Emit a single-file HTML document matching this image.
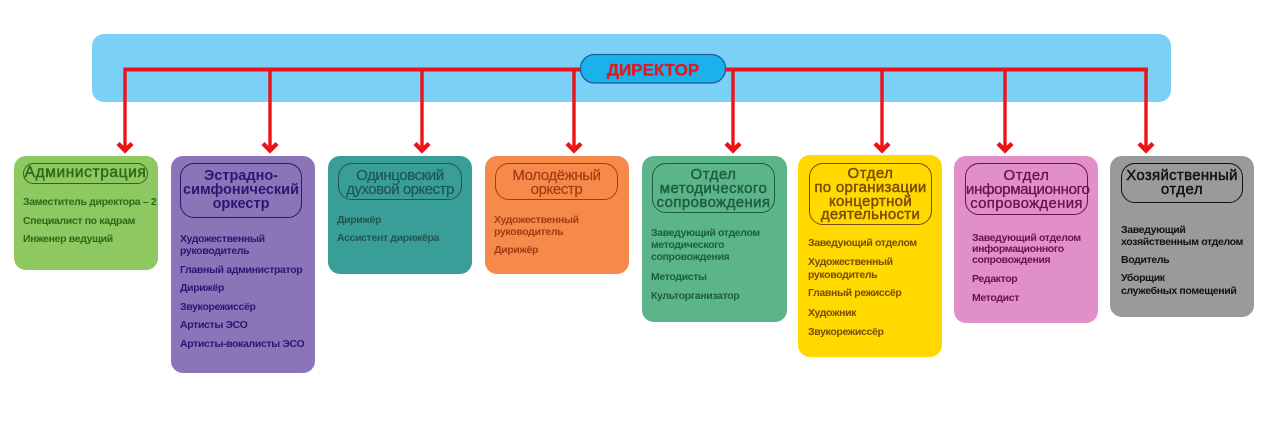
<!DOCTYPE html>
<html>
<head>
<meta charset="utf-8">
<style>
html,body{margin:0;padding:0;background:#fff;}
body{width:1280px;height:445px;position:relative;overflow:hidden;font-family:"Liberation Sans","DejaVu Sans",sans-serif;}
svg{position:absolute;left:0;top:0;}
.box{position:absolute;border-radius:12px;}
.pill{position:absolute;border:1.5px solid;border-radius:14px;box-sizing:border-box;}
.t{position:absolute;left:0;right:0;text-align:center;font-size:15px;line-height:14px;height:14px;white-space:nowrap;}
.i{position:absolute;font-size:10.5px;font-weight:bold;line-height:12px;height:12px;white-space:nowrap;letter-spacing:-0.35px;}
</style>
</head>
<body>
<svg width="1280" height="445" viewBox="0 0 1280 445">
  <rect x="92" y="34" width="1079" height="68" rx="12" ry="12" fill="#7BD0F5"/>
  <g stroke="#EC1318" fill="none" stroke-linecap="butt">
    <line x1="123.5" y1="69.5" x2="1148" y2="69.5" stroke-width="4"/>
    <line x1="125" y1="68" x2="125" y2="150" stroke-width="3.4"/>
    <line x1="270" y1="68" x2="270" y2="150" stroke-width="3.4"/>
    <line x1="422" y1="68" x2="422" y2="150" stroke-width="3.4"/>
    <line x1="574" y1="68" x2="574" y2="150" stroke-width="3.4"/>
    <line x1="733" y1="68" x2="733" y2="150" stroke-width="3.4"/>
    <line x1="882" y1="68" x2="882" y2="150" stroke-width="3.4"/>
    <line x1="1005" y1="68" x2="1005" y2="150" stroke-width="3.4"/>
    <line x1="1146" y1="68" x2="1146" y2="150" stroke-width="3.4"/>
  </g>
  <g stroke="#EC1318" fill="none" stroke-width="4.4" stroke-linejoin="miter">
    <path d="M118 143.5 L125 150.5 L132 143.5"/>
    <path d="M263 143.5 L270 150.5 L277 143.5"/>
    <path d="M415 143.5 L422 150.5 L429 143.5"/>
    <path d="M567 143.5 L574 150.5 L581 143.5"/>
    <path d="M726 143.5 L733 150.5 L740 143.5"/>
    <path d="M875 143.5 L882 150.5 L889 143.5"/>
    <path d="M998 143.5 L1005 150.5 L1012 143.5"/>
    <path d="M1139 143.5 L1146 150.5 L1153 143.5"/>
  </g>
  <rect x="580.5" y="54.5" width="145" height="28.5" rx="14" ry="14" fill="#1BB1EA" stroke="#1F5A9B" stroke-width="1.3"/>
  <text x="653" y="75.5" text-anchor="middle" font-family="Liberation Sans, sans-serif" font-weight="bold" font-size="17" fill="#E3171F" stroke="#E3171F" stroke-width="0.3">ДИРЕКТОР</text>
</svg>

<!-- 1 Администрация -->
<div class="box" style="left:14px;top:156px;width:144px;height:114px;background:#8DC860;">
  <div class="pill" style="left:9px;top:7px;width:125px;height:21px;border-color:#2D6A1A;border-radius:11px;">
    <div class="t" style="top:2px;color:#2D6A1A;font-size:15.5px;letter-spacing:0.6px;-webkit-text-stroke:0.45px #2D6A1A;">Администрация</div>
  </div>
  <div class="i" style="left:9px;top:40px;color:#2D6A1A;">Заместитель директора – 2</div>
  <div class="i" style="left:9px;top:59px;color:#2D6A1A;">Специалист по кадрам</div>
  <div class="i" style="left:9px;top:77px;color:#2D6A1A;">Инженер ведущий</div>
</div>

<!-- 2 Эстрадно-симфонический -->
<div class="box" style="left:171px;top:156px;width:144px;height:217px;background:#8B74B8;">
  <div class="pill" style="left:9px;top:7px;width:122px;height:55px;border-color:#2B1672;">
    <div class="t" style="top:5px;color:#2B1672;font-weight:bold;font-size:14.5px;">Эстрадно-</div>
    <div class="t" style="top:19px;color:#2B1672;font-weight:bold;font-size:14.5px;">симфонический</div>
    <div class="t" style="top:33px;color:#2B1672;font-weight:bold;font-size:14.5px;">оркестр</div>
  </div>
  <div class="i" style="left:9px;top:77px;color:#2B1672;">Художественный</div>
  <div class="i" style="left:9px;top:89px;color:#2B1672;">руководитель</div>
  <div class="i" style="left:9px;top:108px;color:#2B1672;">Главный администратор</div>
  <div class="i" style="left:9px;top:126px;color:#2B1672;">Дирижёр</div>
  <div class="i" style="left:9px;top:145px;color:#2B1672;">Звукорежиссёр</div>
  <div class="i" style="left:9px;top:163px;color:#2B1672;">Артисты ЭСО</div>
  <div class="i" style="left:9px;top:182px;color:#2B1672;">Артисты-вокалисты ЭСО</div>
</div>

<!-- 3 Одинцовский -->
<div class="box" style="left:328px;top:156px;width:144px;height:118px;background:#3A9E98;">
  <div class="pill" style="left:10px;top:7px;width:124px;height:37px;border-color:#1E5652;">
    <div class="t" style="top:5px;color:#1E5652;letter-spacing:-0.4px;-webkit-text-stroke:0.2px #1E5652;">Одинцовский</div>
    <div class="t" style="top:19px;color:#1E5652;letter-spacing:-0.5px;-webkit-text-stroke:0.2px #1E5652;">духовой оркестр</div>
  </div>
  <div class="i" style="left:9px;top:58px;color:#1E5652;">Дирижёр</div>
  <div class="i" style="left:9px;top:76px;color:#1E5652;">Ассистент дирижёра</div>
</div>

<!-- 4 Молодёжный -->
<div class="box" style="left:485px;top:156px;width:144px;height:118px;background:#F68A4B;">
  <div class="pill" style="left:10px;top:7px;width:123px;height:37px;border-color:#A53B12;">
    <div class="t" style="top:5px;color:#A53B12;letter-spacing:-0.4px;-webkit-text-stroke:0.2px #A53B12;">Молодёжный</div>
    <div class="t" style="top:19px;color:#A53B12;letter-spacing:-0.4px;-webkit-text-stroke:0.2px #A53B12;">оркестр</div>
  </div>
  <div class="i" style="left:9px;top:58px;color:#A53B12;">Художественный</div>
  <div class="i" style="left:9px;top:70px;color:#A53B12;">руководитель</div>
  <div class="i" style="left:9px;top:88px;color:#A53B12;">Дирижёр</div>
</div>

<!-- 5 Отдел методического сопровождения -->
<div class="box" style="left:642px;top:156px;width:145px;height:166px;background:#5BB588;">
  <div class="pill" style="left:10px;top:7px;width:123px;height:50px;border-color:#1D5E40;">
    <div class="t" style="top:4px;color:#1D5E40;letter-spacing:0.5px;-webkit-text-stroke:0.45px #1D5E40;">Отдел</div>
    <div class="t" style="top:18px;color:#1D5E40;letter-spacing:0.4px;-webkit-text-stroke:0.45px #1D5E40;">методического</div>
    <div class="t" style="top:32px;color:#1D5E40;letter-spacing:0.4px;-webkit-text-stroke:0.45px #1D5E40;">сопровождения</div>
  </div>
  <div class="i" style="left:9px;top:71px;color:#1D5E40;">Заведующий отделом</div>
  <div class="i" style="left:9px;top:83px;color:#1D5E40;">методического</div>
  <div class="i" style="left:9px;top:95px;color:#1D5E40;">сопровождения</div>
  <div class="i" style="left:9px;top:115px;color:#1D5E40;">Методисты</div>
  <div class="i" style="left:9px;top:134px;color:#1D5E40;">Культорганизатор</div>
</div>

<!-- 6 Отдел по организации концертной деятельности -->
<div class="box" style="left:798px;top:155px;width:144px;height:202px;background:#FFD900;">
  <div class="pill" style="left:11px;top:8px;width:123px;height:62px;border-color:#7A4B05;">
    <div class="t" style="top:3px;color:#7A4B05;letter-spacing:0.5px;-webkit-text-stroke:0.45px #7A4B05;">Отдел</div>
    <div class="t" style="top:17px;color:#7A4B05;letter-spacing:0.3px;-webkit-text-stroke:0.45px #7A4B05;">по организации</div>
    <div class="t" style="top:31px;color:#7A4B05;letter-spacing:0.3px;-webkit-text-stroke:0.45px #7A4B05;">концертной</div>
    <div class="t" style="top:44px;color:#7A4B05;letter-spacing:0.3px;-webkit-text-stroke:0.45px #7A4B05;">деятельности</div>
  </div>
  <div class="i" style="left:10px;top:82px;color:#7A4B05;">Заведующий отделом</div>
  <div class="i" style="left:10px;top:101px;color:#7A4B05;">Художественный</div>
  <div class="i" style="left:10px;top:114px;color:#7A4B05;">руководитель</div>
  <div class="i" style="left:10px;top:132px;color:#7A4B05;">Главный режиссёр</div>
  <div class="i" style="left:10px;top:152px;color:#7A4B05;">Художник</div>
  <div class="i" style="left:10px;top:171px;color:#7A4B05;">Звукорежиссёр</div>
</div>

<!-- 7 Отдел информационного сопровождения -->
<div class="box" style="left:954px;top:156px;width:144px;height:167px;background:#E08FC8;">
  <div class="pill" style="left:11px;top:7px;width:123px;height:52px;border-color:#6B1050;">
    <div class="t" style="top:5px;color:#6B1050;letter-spacing:0.5px;-webkit-text-stroke:0.35px #6B1050;">Отдел</div>
    <div class="t" style="top:19px;color:#6B1050;letter-spacing:-0.3px;-webkit-text-stroke:0.35px #6B1050;">информационного</div>
    <div class="t" style="top:33px;color:#6B1050;letter-spacing:0.3px;-webkit-text-stroke:0.35px #6B1050;">сопровождения</div>
  </div>
  <div class="i" style="left:18px;top:76px;color:#6B1050;">Заведующий отделом</div>
  <div class="i" style="left:18px;top:87px;color:#6B1050;">информационного</div>
  <div class="i" style="left:18px;top:98px;color:#6B1050;">сопровождения</div>
  <div class="i" style="left:18px;top:117px;color:#6B1050;">Редактор</div>
  <div class="i" style="left:18px;top:136px;color:#6B1050;">Методист</div>
</div>

<!-- 8 Хозяйственный отдел -->
<div class="box" style="left:1110px;top:156px;width:144px;height:161px;background:#9A9A9A;">
  <div class="pill" style="left:11px;top:7px;width:122px;height:40px;border-color:#111;">
    <div class="t" style="top:5px;color:#111;letter-spacing:0.3px;-webkit-text-stroke:0.45px #111;">Хозяйственный</div>
    <div class="t" style="top:19px;color:#111;letter-spacing:0.5px;-webkit-text-stroke:0.45px #111;">отдел</div>
  </div>
  <div class="i" style="left:11px;top:68px;color:#111;">Заведующий</div>
  <div class="i" style="left:11px;top:80px;color:#111;">хозяйственным отделом</div>
  <div class="i" style="left:11px;top:98px;color:#111;">Водитель</div>
  <div class="i" style="left:11px;top:116px;color:#111;">Уборщик</div>
  <div class="i" style="left:11px;top:129px;color:#111;">служебных помещений</div>
</div>

</body>
</html>
